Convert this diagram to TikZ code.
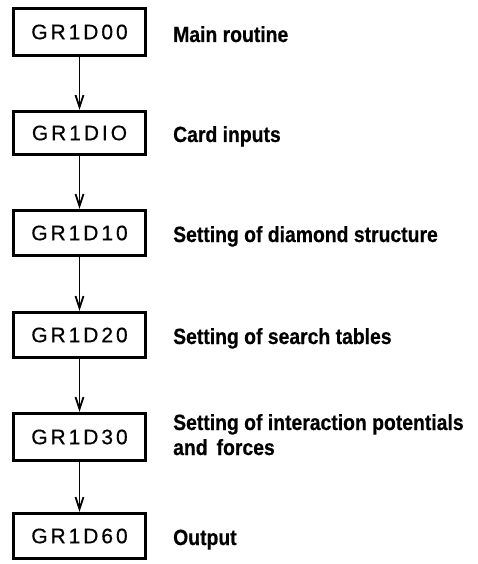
\documentclass[tikz,border=0pt]{standalone}
\usepackage{fontspec}
\usetikzlibrary{arrows.meta}
\newfontfamily\boxfont[LetterSpace=14,FakeBold=0.6]{Liberation Sans}
\newfontfamily\labelfont[FakeStretch=0.88,FakeBold=0.5]{Liberation Sans Bold}
\tikzset{
  x=1pt, y=-1pt,
  routine/.style={draw, line width=3.2pt, minimum width=132pt, minimum height=45pt,
    inner sep=0pt, font=\boxfont\fontsize{21}{21}\selectfont},
  caption/.style={anchor=base west, inner sep=0pt, align=left,
    font=\labelfont\fontsize{22}{25}\selectfont},
  flow/.style={line width=1.7pt, -{Straight Barb[length=12pt,width=8pt,line width=1.8pt]}}
}
\begin{document}
\begin{tikzpicture}
\useasboundingbox (0,0) rectangle (477,564);
% call chain of the routines
\node[routine, minimum height=47pt] (r0) at (79.5,32)  {GR1D00\hspace{-3pt}};
\node[routine, minimum height=43pt] (r1) at (79.5,133) {GR1DIO\hspace{-3pt}};
\node[routine] (r2) at (79.5,233) {GR1D10\hspace{-3pt}};
\node[routine] (r3) at (79.5,335) {GR1D20\hspace{-3pt}};
\node[routine, minimum height=47pt] (r4) at (79.5,437) {GR1D30\hspace{-3pt}};
\node[routine] (r5) at (79.5,536) {GR1D60\hspace{-3pt}};
% what each routine does
\node[caption] (c0) at (173,42)  {Main routine};
\node[caption] (c1) at (173,142) {Card inputs};
\node[caption] (c2) at (173,242) {Setting of diamond structure};
\node[caption] (c3) at (173,344) {Setting of search tables};
\node[caption] (c4) at (173,455) {Setting of interaction potentials\\and\, forces};
\node[caption] (c5) at (173,545) {Output};
% arrows between successive routines
\foreach \a/\b in {r0/r1, r1/r2, r2/r3, r3/r4, r4/r5}
  \draw[flow] (\a.south) -- (\b.north);
\end{tikzpicture}
\end{document}
